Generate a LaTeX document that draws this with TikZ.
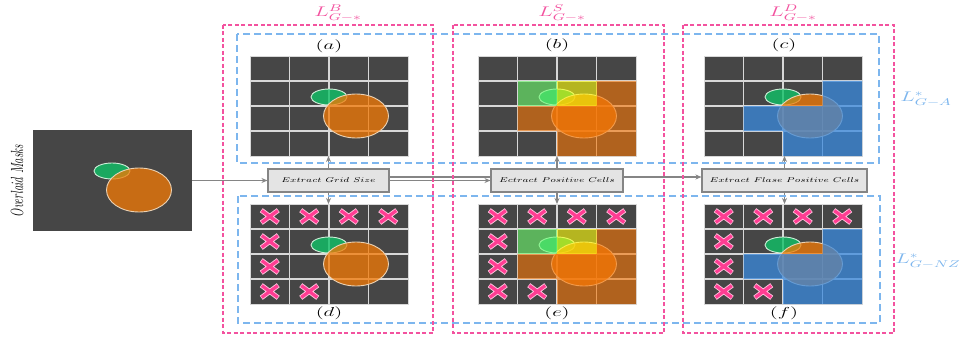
\RequirePackage{fix-cm}
\documentclass[tikz,border=0pt]{standalone}
\usetikzlibrary{arrows.meta}

\definecolor{cellbg}{HTML}{464646}
\definecolor{gridln}{HTML}{D8D8D8}
\definecolor{pinkdash}{HTML}{F3529F}
\definecolor{bluedash}{HTML}{7DB6EE}
\definecolor{conn}{HTML}{858585}
\definecolor{boxfill}{HTML}{E4E4E4}
\definecolor{grfill}{RGB}{15,193,103}
\definecolor{orfill}{RGB}{244,121,4}
\definecolor{grrim}{HTML}{CFEFD9}
\definecolor{orrim}{HTML}{EBD2B4}
\definecolor{tpgreen}{RGB}{107,252,107}
\definecolor{tpyellow}{RGB}{255,255,7}
\definecolor{tporange}{RGB}{247,117,4}
\definecolor{fpblue}{RGB}{57,137,222}
\definecolor{xpink}{HTML}{FF3D93}
\definecolor{xrim}{HTML}{FFC2DD}

\tikzset{
  pinkbox/.style={draw=pinkdash, line width=1.4pt, dash pattern=on 4pt off 2.5pt},
  bluebox/.style={draw=bluedash, line width=1.4pt, dash pattern=on 7pt off 4pt},
  stepbox/.style={draw=conn, fill=boxfill, line width=1.1pt, minimum height=23pt, inner sep=0pt},
  conline/.style={draw=conn, line width=1.1pt},
  arr/.style={conline, -{Stealth[length=6pt,width=5pt]}},
  panel/.style={fill=cellbg, minimum width=158pt, minimum height=100pt, inner sep=0pt, outer sep=0pt, anchor=north west},
  gridline/.style={draw=gridln, line width=1.2pt},
  panellabel/.style={inner sep=0pt, font=\fontsize{13}{15}\selectfont},
  pinklabel/.style={inner sep=0pt, text=pinkdash, font=\fontsize{14}{16}\selectfont},
  bluelabel/.style={inner sep=0pt, text=bluedash, font=\fontsize{14}{16}\selectfont},
  xcross/.pic={
    \draw[xrim, line width=5pt] (-8.5,-6.3) -- (8.5,6.3) (-8.5,6.3) -- (8.5,-6.3);
    \draw[xpink, line width=3.2pt] (-8,-5.9) -- (8,5.9) (-8,5.9) -- (8,-5.9);
  }
}

% one grid cell (column, row) of a 4x4 panel
\newcommand\cellat[2]{({#1*39.5},{#2*25}) rectangle ++(39.5,25)}
% the two masks over a dark background
\newcommand\maskpair{%
  \path[fill=grfill, fill opacity=0.8, draw=grrim, line width=0.9pt] (79,41) ellipse [x radius=18pt, y radius=8pt];
  \path[fill=orfill, fill opacity=0.75, draw=orrim, line width=0.9pt] (106,60) ellipse [x radius=32.5pt, y radius=22pt];}
% grid lines, then the masks
\newcommand\basepanel{%
  \draw[draw=gridln, line width=0.8pt] (0,0) rectangle (158,100);
  \foreach \k in {1,2,3}{\draw[gridline] ({\k*39.5},0) -- ({\k*39.5},100) (0,{\k*25}) -- (158,{\k*25});}
  \maskpair}
% positive cells
\newcommand\tpcells{%
  \fill[tpgreen, fill opacity=0.6] \cellat{1}{1};
  \fill[tpyellow, fill opacity=0.6] \cellat{2}{1};
  \fill[tporange, fill opacity=0.6] \cellat{3}{1} \cellat{1}{2} \cellat{2}{2} \cellat{3}{2} \cellat{2}{3} \cellat{3}{3};}
% false positive cells
\newcommand\fpcells{%
  \fill[fpblue, fill opacity=0.75] \cellat{3}{1} \cellat{1}{2} \cellat{2}{2} \cellat{3}{2} \cellat{2}{3} \cellat{3}{3};}
% cells excluded as zero cells
\newcommand\crosses{%
  \foreach \i/\j in {0/0,1/0,2/0,3/0,0/1,0/2,0/3,1/3} \pic at ({\i*39.5+19.75},{\j*25+12.5}) {xcross};}
% text of a processing step
\newcommand\steptext[1]{\scalebox{1.4}[1]{\fontsize{7}{8}\selectfont$#1$}}

\begin{document}
\begin{tikzpicture}[x=1pt, y=-1pt]
\useasboundingbox (0,0) rectangle (967,337);
\fill[white] (0,0) rectangle (967,337);

% input masks
\node[panel, minimum width=159pt, minimum height=101pt] (ov) at (33,130) {};
\begin{scope}[shift={(ov.north west)}] \maskpair \end{scope}
\node[rotate=90, inner sep=0pt] (ovl) at (17,181)
  {\scalebox{1}[1.6]{\fontsize{11}{13}\selectfont\itshape Overlaid Masks}};

% panels
\node[panel] (ga) at (250,56) {};
\node[panel] (gb) at (478,56) {};
\node[panel] (gc) at (704,56) {};
\node[panel] (gd) at (250,204) {};
\node[panel] (ge) at (478,204) {};
\node[panel] (gf) at (704,204) {};

\begin{scope}[shift={(ga.north west)}] \basepanel \end{scope}
\begin{scope}[shift={(gb.north west)}] \basepanel \tpcells \end{scope}
\begin{scope}[shift={(gc.north west)}] \basepanel \fpcells \end{scope}
\begin{scope}[shift={(gd.north west)}] \basepanel \crosses \end{scope}
\begin{scope}[shift={(ge.north west)}] \basepanel \tpcells \crosses \end{scope}
\begin{scope}[shift={(gf.north west)}] \basepanel \fpcells \crosses \end{scope}

% panel labels
\node[panellabel] (la) at (329,46) {\scalebox{1.6}[1]{$(a)$}};
\node[panellabel] (lb) at (557,45) {\scalebox{1.6}[1]{$(b)$}};
\node[panellabel] (lc) at (784,45) {\scalebox{1.6}[1]{$(c)$}};
\node[panellabel] (ld) at (329,313) {\scalebox{1.6}[1]{$(d)$}};
\node[panellabel] (le) at (557,313) {\scalebox{1.6}[1]{$(e)$}};
\node[panellabel] (lf) at (784,313) {\scalebox{1.6}[1]{$(f)$}};

% processing steps
\node[stepbox, minimum width=121pt] (s1) at (328.5,180.5)
  {\steptext{Extract\ Grid\ Size}};
\node[stepbox, minimum width=165pt] (s3) at (784.5,180.5)
  {\steptext{Extract\ Flase\ Positive\ Cells}};
\draw[arr] ([yshift=3.5pt]s1.east) -- ([yshift=3.5pt]s3.west);
\node[stepbox, minimum width=132pt] (s2) at (557,180.5)
  {\steptext{Ectract\ Positive\ Cells}};

\draw[arr] (ov.east) -- (s1.west);
\draw[arr] (s1.east) -- (s2.west);
\foreach \s/\t/\b in {s1/ga/gd, s2/gb/ge, s3/gc/gf}{
  \draw[arr] (\s.north) -- (\s.north |- \t.south);
  \draw[arr] (\s.south) -- (\s.south |- \b.north);
}

% loss groupings
\draw[bluebox] (237,34) rectangle (879,163);
\draw[bluebox] (238,196) rectangle (880,323);
\draw[pinkbox] (223,25) rectangle (433,333);
\draw[pinkbox] (453,25) rectangle (664,333);
\draw[pinkbox] (683,25) rectangle (894,333);

\node[pinklabel] (pb) at (338,13) {\scalebox{1.55}[1]{$L^{B}_{G-*}$}};
\node[pinklabel] (ps) at (562,13) {\scalebox{1.55}[1]{$L^{S}_{G-*}$}};
\node[pinklabel] (pd) at (793,13) {\scalebox{1.55}[1]{$L^{D}_{G-*}$}};
\node[bluelabel] (ba) at (926,99) {\scalebox{1.55}[1]{$L^{*}_{G-A}$}};
\node[bluelabel] (bn) at (928,261) {\scalebox{1.55}[1]{$L^{*}_{G-NZ}$}};
\end{tikzpicture}
\end{document}
